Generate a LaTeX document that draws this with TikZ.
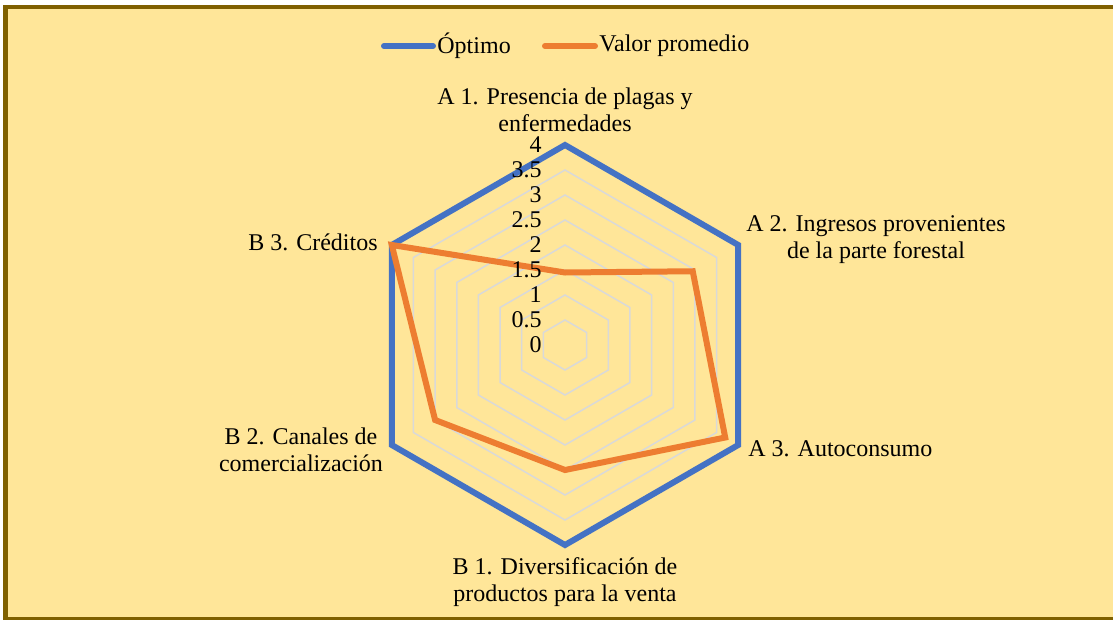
\documentclass[tikz,border=0pt]{standalone}
\usepackage{fontspec}
\setmainfont{Liberation Serif}
\usetikzlibrary{calc}

\definecolor{chartFill}{HTML}{FFE699}
\definecolor{chartFrame}{HTML}{7F6000}
\definecolor{optimoColor}{HTML}{4472C4}
\definecolor{promedioColor}{HTML}{ED7D31}
\definecolor{gridColor}{HTML}{D9D9D9}

\begin{document}
\begin{tikzpicture}[x = 0.5pt, y = -0.5pt, font = \rmfamily\fontsize{12}{13.5}\selectfont]
	\tikzstyle{gridStyle} = [draw = gridColor, line width = 0.75pt]
	\tikzstyle{seriesStyle} = [line width = 3pt, line join = miter]
	\tikzstyle{legendStyle} = [line width = 3pt, line cap = round]
	\tikzstyle{axisLabel} = [anchor = east, inner sep = 0pt]
	\tikzstyle{catLabel} = [align = center, inner sep = 0pt]
	\useasboundingbox (0,0) rectangle (1113,620);
	\begin{scope}
		\clip (0,0) rectangle (1113,620);
		\draw[fill = chartFill, draw = chartFrame, line width = 2.25pt] (5.5,7) rectangle (1125,619.5);
	\end{scope}
	% centre and axes
	\coordinate (c) at (565,345);
	\foreach \i in {0,...,5}
		\coordinate (ax\i) at ($(c)+(-90+60*\i:200)$);
	% grid
	\foreach \r in {0.5,1,1.5,2,2.5,3,3.5}
		\draw[gridStyle] ($(c)!\r/4!(ax0)$) -- ($(c)!\r/4!(ax1)$) -- ($(c)!\r/4!(ax2)$)
			-- ($(c)!\r/4!(ax3)$) -- ($(c)!\r/4!(ax4)$) -- ($(c)!\r/4!(ax5)$) -- cycle;
	% series
	\foreach \v [count = \k from 0] in {1.45,2.95,3.7,2.5,3,4}
		\coordinate (p\k) at ($(c)!\v/4!(ax\k)$);
	\draw[seriesStyle, optimoColor] (ax0) -- (ax1) -- (ax2) -- (ax3) -- (ax4) -- (ax5) -- cycle;
	\draw[seriesStyle, promedioColor] (p0) -- (p1) -- (p2) -- (p3) -- (p4) -- (p5) -- cycle;
	% axis values
	\foreach \v [count = \k] in {0,0.5,1,1.5,2,2.5,3,3.5,4}
		\node[axisLabel] (tick\k) at (542,345-50*\v) {\v};
	% categories
	\node[catLabel] (a1) at (565,110) {A 1. Presencia de plagas y\\enfermedades};
	\node[catLabel] (a2) at (876,240) {A 2. Ingresos provenientes\\de la parte forestal};
	\node[catLabel, anchor = west] (a3) at (748,449) {A 3. Autoconsumo};
	\node[catLabel] (b1) at (565,582) {B 1. Diversificación de\\productos para la venta};
	\node[catLabel] (b2) at (301,450) {B 2. Canales de\\comercialización};
	\node[catLabel, anchor = east] (b3) at (378,242) {B 3. Créditos};
	% legend
	\coordinate (lo1) at (384,46);
	\coordinate (lo2) at (433,46);
	\coordinate (lp1) at (545,46);
	\coordinate (lp2) at (595,46);
	\draw[legendStyle, optimoColor] (lo1) -- (lo2);
	\draw[legendStyle, promedioColor] (lp1) -- (lp2);
	\node[anchor = west, inner sep = 0pt] (optimo) at (437,46) {Óptimo};
	\node[anchor = west, inner sep = 0pt] (promedio) at (599,46) {Valor promedio};
\end{tikzpicture}
\end{document}
